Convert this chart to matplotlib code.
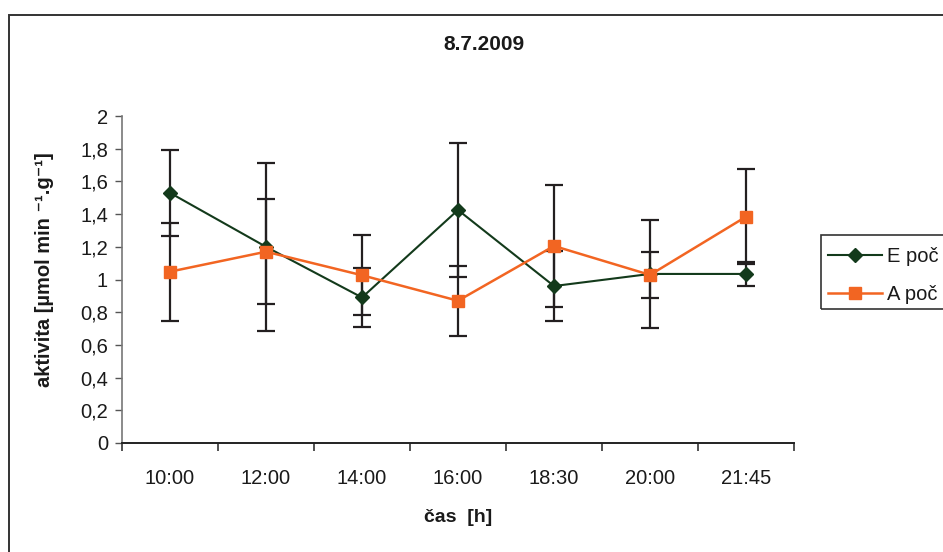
import matplotlib
matplotlib.use("Agg")
import matplotlib.pyplot as plt
from matplotlib.patches import Rectangle
import numpy as np

plt.rcParams['font.family'] = ['Liberation Sans', 'DejaVu Sans']

categories = ["10:00", "12:00", "14:00", "16:00", "18:30", "20:00", "21:45"]
e_values = [1.53, 1.20, 0.89, 1.425, 0.96, 1.034, 1.034]
e_err = [0.263, 0.514, 0.18, 0.41, 0.215, 0.33, 0.076]
a_values = [1.048, 1.17, 1.026, 0.87, 1.205, 1.028, 1.384]
a_err = [0.30, 0.32, 0.245, 0.215, 0.374, 0.14, 0.29]
yticks = [0, 0.2, 0.4, 0.6, 0.8, 1.0, 1.2, 1.4, 1.6, 1.8, 2.0]

W, H = 943, 552
fig = plt.figure(figsize=(W / 100, H / 100), dpi=100)
ax = fig.add_axes([122 / W, 1 - 443 / H, (794 - 122) / W, (443 - 116) / H])

x = np.arange(len(categories))
green = "#133a1b"
orange = "#f26522"
errc = "#231f20"

ax.errorbar(x, e_values, yerr=e_err, fmt="none", ecolor=errc, elinewidth=1.6,
            capsize=6.5, capthick=1.6, zorder=2)
ax.errorbar(x, a_values, yerr=a_err, fmt="none", ecolor=errc, elinewidth=1.6,
            capsize=6.5, capthick=1.6, zorder=2)
ax.plot(x, e_values, color=green, lw=1.5, marker="D", markersize=7.5,
        markerfacecolor=green, markeredgecolor=green, zorder=3, label="E poč")
ax.plot(x, a_values, color=orange, lw=1.8, marker="s", markersize=8,
        markerfacecolor=orange, markeredgecolor=orange, zorder=4, label="A poč")

ax.set_xlim(-0.5, len(categories) - 0.5)
ax.set_ylim(0, 2)
ax.set_yticks(yticks)
ax.set_yticklabels([("%g" % v).replace(".", ",") for v in yticks])
ax.set_xticks(np.arange(-0.5, len(categories), 1.0))
ax.set_xticklabels([])
ax.set_xticks(x, minor=True)
ax.set_xticklabels(categories, minor=True)
ax.tick_params(axis="x", which="minor", length=0, pad=19, labelsize=14.5, colors="#1a1a1a")
ax.tick_params(axis="x", which="major", length=6, width=1.2, color="#333333", direction="out")
ax.tick_params(axis="y", length=5, width=1.0, color="#555555", direction="out",
               labelsize=14.5, labelcolor="#1a1a1a", pad=5)
for s in ["top", "right"]:
    ax.spines[s].set_visible(False)
ax.spines["left"].set_color("#777777")
ax.spines["left"].set_linewidth(1.2)
ax.spines["bottom"].set_color("#222222")
ax.spines["bottom"].set_linewidth(1.4)

fig.text(484 / W, 1 - 45 / H, "8.7.2009", ha="center", va="center",
         fontsize=15, fontweight="bold", color="#1a1a1a")
fig.text(458 / W, 1 - 517 / H, "čas  [h]", ha="center", va="center",
         fontsize=14, fontweight="bold", color="#1a1a1a")
fig.text(45 / W, 1 - 270 / H, "aktivita [µmol min ⁻¹.g⁻¹]", ha="center", va="center",
         rotation=90, fontsize=14.5, fontweight="bold", color="#1a1a1a")

# chart area border
fig.patches.append(Rectangle((9 / W, -0.1), 1.2, 1 - 15 / H + 0.1, transform=fig.transFigure,
                             fill=False, edgecolor="#333333", lw=1.4, zorder=0))
# legend box
fig.patches.append(Rectangle((821 / W, 1 - 309 / H), 0.3, 74 / H, transform=fig.transFigure,
                             fill=False, edgecolor="#333333", lw=1.2, zorder=5))
leg = fig.legend(loc="upper left", bbox_to_anchor=(817 / W, 1 - 236 / H), frameon=False,
                 fontsize=14.5, handlelength=2.7, handletextpad=0.25, labelspacing=0.95,
                 borderaxespad=0, borderpad=0.55, labelcolor="#1a1a1a")

fig.savefig("out.png", dpi=100)
